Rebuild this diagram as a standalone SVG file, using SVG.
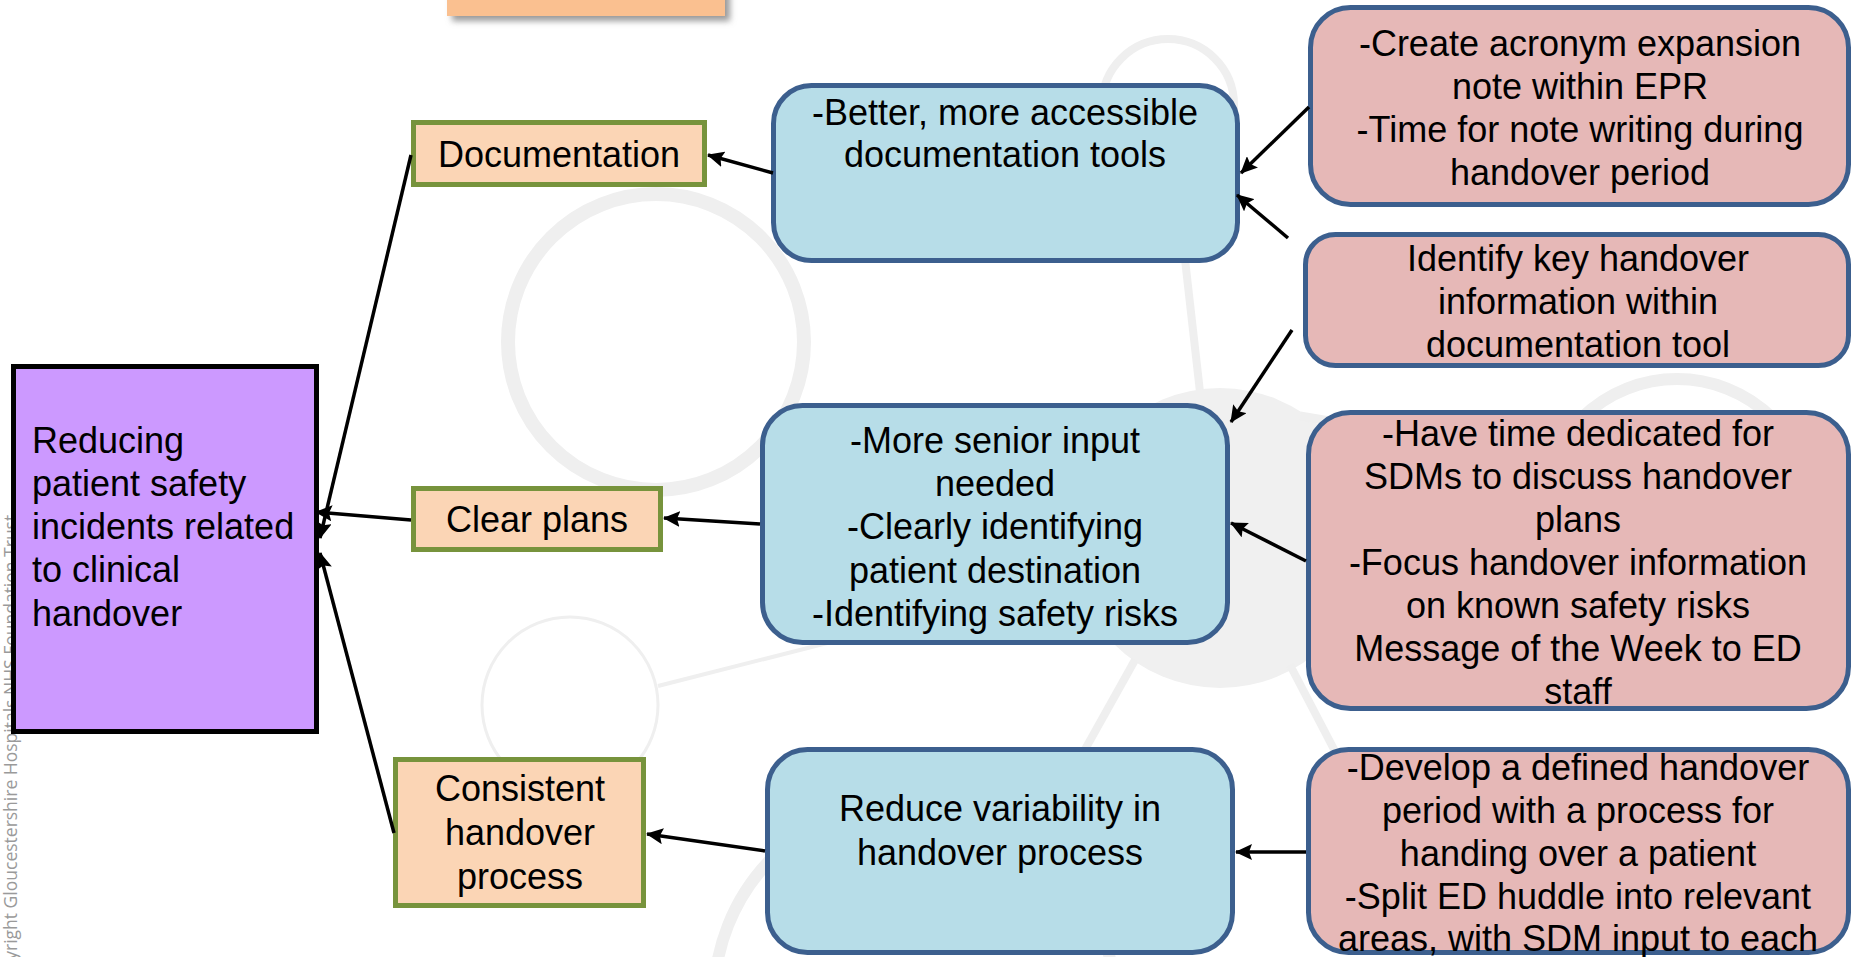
<svg xmlns="http://www.w3.org/2000/svg" width="1853" height="957" viewBox="0 0 1853 957">
<defs>
<style>
.t{font-family:"Liberation Sans",Arial,sans-serif;font-size:36px;fill:#000;text-anchor:middle}
.tl{text-anchor:start}
.wm{fill:none;stroke:#EFEFEF}
.green{fill:#FBD5B5;stroke:#77933C;stroke-width:5}
.blue{fill:#B7DDE8;stroke:#3C5F8E;stroke-width:5}
.pink{fill:#E6B8B7;stroke:#3C5F8E;stroke-width:5}
.conn{stroke:#000;stroke-width:3.5;fill:none;marker-end:url(#ah)}
</style>
<marker id="ah" markerUnits="userSpaceOnUse" markerWidth="18" markerHeight="16" refX="16" refY="8" orient="auto">
<path d="M0,0 L17,8 L0,16 L3,8 z" fill="#000"/>
</marker>
<filter id="sh" x="-10%" y="-50%" width="120%" height="250%">
<feGaussianBlur stdDeviation="3"/>
</filter>
</defs>
<rect width="1853" height="957" fill="#fff"/>
<g id="watermark">
<circle cx="656" cy="342" r="148" class="wm" stroke-width="14"/>
<circle cx="1168" cy="105" r="66" class="wm" stroke-width="8"/>
<line x1="1175" y1="171" x2="1200" y2="392" class="wm" stroke-width="8"/>
<circle cx="1220" cy="538" r="150" fill="#F0F0F0"/>
<circle cx="1677" cy="515" r="136" class="wm" stroke-width="12"/>
<line x1="1300" y1="416" x2="1560" y2="460" class="wm" stroke-width="9"/>
<line x1="1290" y1="665" x2="1350" y2="780" class="wm" stroke-width="8"/>
<line x1="1135" y1="660" x2="1040" y2="830" class="wm" stroke-width="8"/>
<circle cx="914" cy="999" r="200" class="wm" stroke-width="12"/>
<circle cx="570" cy="705" r="88" class="wm" stroke-width="3"/>
<line x1="658" y1="686" x2="1075" y2="580" class="wm" stroke-width="4"/>
<text transform="translate(17,992) rotate(-90)" font-family="'Open Sans','Noto Sans',sans-serif" font-size="17.5" fill="#9a9a9a">Copyright Gloucestershire Hospitals NHS Foundation Trust</text>
</g>
<g id="top-box">
<rect x="452" y="-10" width="278" height="31" fill="#9a9a9a" filter="url(#sh)"/>
<rect x="447" y="-10" width="278" height="26" fill="#FAC090"/>
</g>
<g id="goal">
<rect x="13.5" y="366.5" width="303" height="365" fill="#CC99FF" stroke="#000" stroke-width="5"/>
<text class="t tl" x="32" y="453">Reducing</text>
<text class="t tl" x="32" y="496">patient safety</text>
<text class="t tl" x="32" y="539">incidents related</text>
<text class="t tl" x="32" y="582">to clinical</text>
<text class="t tl" x="32" y="626">handover</text>
</g>
<g id="documentation">
<rect x="413.5" y="122.5" width="291" height="62" class="green"/>
<text class="t" x="559" y="167">Documentation</text>
</g>
<g id="clear-plans">
<rect x="413.5" y="488.5" width="247" height="61" class="green"/>
<text class="t" x="537" y="532">Clear plans</text>
</g>
<g id="consistent">
<rect x="395.5" y="759.5" width="248" height="146" class="green"/>
<text class="t" x="520" y="801">Consistent</text>
<text class="t" x="520" y="845">handover</text>
<text class="t" x="520" y="889">process</text>
</g>
<g id="blue1">
<rect x="773.5" y="85.5" width="464" height="175" rx="38" class="blue"/>
<text class="t" x="1005" y="125">-Better, more accessible</text>
<text class="t" x="1005" y="167">documentation tools</text>
</g>
<g id="blue2">
<rect x="762.5" y="405.5" width="465" height="237" rx="40" class="blue"/>
<text class="t" x="995" y="453">-More senior input</text>
<text class="t" x="995" y="496">needed</text>
<text class="t" x="995" y="539">-Clearly identifying</text>
<text class="t" x="995" y="583">patient destination</text>
<text class="t" x="995" y="626">-Identifying safety risks</text>
</g>
<g id="blue3">
<rect x="767.5" y="749.5" width="465" height="203" rx="40" class="blue"/>
<text class="t" x="1000" y="821">Reduce variability in</text>
<text class="t" x="1000" y="865">handover process</text>
</g>
<g id="pink1">
<rect x="1310.5" y="7.5" width="538" height="197" rx="40" class="pink"/>
<text class="t" x="1580" y="56">-Create acronym expansion</text>
<text class="t" x="1580" y="99">note within EPR</text>
<text class="t" x="1580" y="142">-Time for note writing during</text>
<text class="t" x="1580" y="185">handover period</text>
</g>
<g id="pink2">
<rect x="1305.5" y="234.5" width="543" height="131" rx="30" class="pink"/>
<text class="t" x="1578" y="271">Identify key handover</text>
<text class="t" x="1578" y="314">information within</text>
<text class="t" x="1578" y="357">documentation tool</text>
</g>
<g id="pink3">
<rect x="1308.5" y="412.5" width="540" height="296" rx="42" class="pink"/>
<text class="t" x="1578" y="446">-Have time dedicated for</text>
<text class="t" x="1578" y="489">SDMs to discuss handover</text>
<text class="t" x="1578" y="532">plans</text>
<text class="t" x="1578" y="575">-Focus handover information</text>
<text class="t" x="1578" y="618">on known safety risks</text>
<text class="t" x="1578" y="661">Message of the Week to ED</text>
<text class="t" x="1578" y="704">staff</text>
</g>
<g id="pink4">
<rect x="1308.5" y="749.5" width="540" height="203" rx="40" class="pink"/>
<text class="t" x="1578" y="780">-Develop a defined handover</text>
<text class="t" x="1578" y="823">period with a process for</text>
<text class="t" x="1578" y="866">handing over a patient</text>
<text class="t" x="1578" y="909">-Split ED huddle into relevant</text>
<text class="t" x="1578" y="951">areas, with SDM input to each</text>
</g>
<g id="connectors">
<line class="conn" x1="773" y1="173" x2="708" y2="155"/>
<line class="conn" x1="411" y1="155" x2="320" y2="538"/>
<line class="conn" x1="411" y1="520" x2="316" y2="512"/>
<line class="conn" x1="394" y1="833" x2="320" y2="553"/>
<line class="conn" x1="760" y1="524" x2="664" y2="518"/>
<line class="conn" x1="765" y1="851" x2="647" y2="834"/>
<line class="conn" x1="1309" y1="107" x2="1241" y2="173"/>
<line class="conn" x1="1288" y1="238" x2="1237" y2="195"/>
<line class="conn" x1="1292" y1="330" x2="1231" y2="422"/>
<line class="conn" x1="1306" y1="561" x2="1231" y2="523"/>
<line class="conn" x1="1306" y1="852" x2="1236" y2="852"/>
</g>
</svg>
